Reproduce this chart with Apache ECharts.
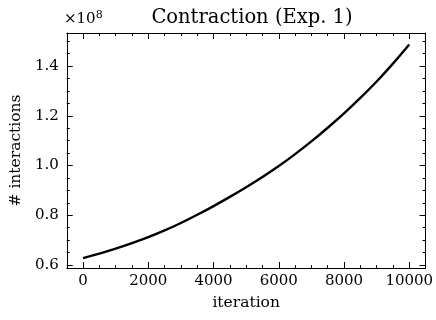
<!DOCTYPE html>
<html>
<head>
<meta charset="utf-8">
<script src="https://cdn.jsdelivr.net/npm/echarts@6/dist/echarts.min.js"></script>
<style>html,body{margin:0;padding:0;background:#fff}#c{width:436px;height:320px}</style>
</head>
<body>
<div id="c"></div>
<script>
const iterations = [0, 500, 1000, 1500, 2000, 2500, 3000, 3500, 4000, 4500, 5000,
  5500, 6000, 6500, 7000, 7500, 8000, 8500, 9000, 9500, 10000];
const interactionsE8 = [0.628, 0.646, 0.666, 0.688, 0.712, 0.739, 0.769, 0.802, 0.837, 0.874, 0.913,
  0.954, 0.998, 1.046, 1.097, 1.152, 1.210, 1.272, 1.338, 1.410, 1.487];
const xMajorTicks = [0, 2000, 4000, 6000, 8000, 10000];
const xMinorTicks = [500, 1000, 1500, 2500, 3000, 3500, 4500, 5000, 5500, 6500, 7000, 7500, 8500, 9000, 9500];
const yMajorTicks = [0.6, 0.8, 1.0, 1.2, 1.4];
const yMinorTicks = [0.65, 0.7, 0.75, 0.85, 0.9, 0.95, 1.05, 1.1, 1.15, 1.25, 1.3, 1.35, 1.45, 1.5];

const FONT = 'DejaVu Serif';
const XMIN = -500, XMAX = 10500, YMIN = 0.588, YMAX = 1.533;

function xAx(pos, ticks, len, showLabel, showLine) {
  return {
    type: 'value', position: pos, min: XMIN, max: XMAX,
    splitLine: {show: false},
    axisLine: {show: showLine, onZero: false, lineStyle: {color: '#000', width: 1}},
    axisTick: {show: true, inside: true, length: len, customValues: ticks, lineStyle: {color: '#000', width: 1}},
    axisLabel: {show: showLabel, customValues: ticks, color: '#000', fontFamily: FONT, fontSize: 15, margin: 6,
      formatter: v => String(v)},
    name: showLabel ? 'iteration' : '', nameLocation: 'middle', nameGap: 27,
    nameTextStyle: {color: '#000', fontFamily: FONT, fontSize: 15.5}
  };
}
function yAx(pos, ticks, len, showLabel, showLine) {
  return {
    type: 'value', position: pos, min: YMIN, max: YMAX,
    splitLine: {show: false},
    axisLine: {show: showLine, onZero: false, lineStyle: {color: '#000', width: 1}},
    axisTick: {show: true, inside: true, length: len, customValues: ticks, lineStyle: {color: '#000', width: 1}},
    axisLabel: {show: showLabel, customValues: ticks, color: '#000', fontFamily: FONT, fontSize: 15, margin: 8,
      formatter: v => v.toFixed(1)},
    name: showLabel ? '# interactions' : '', nameLocation: 'middle', nameGap: 37, nameRotate: 90,
    nameTextStyle: {color: '#000', fontFamily: FONT, fontSize: 15.5}
  };
}

const chart = echarts.init(document.getElementById('c'), null, {renderer: 'canvas'});
chart.setOption({
  animation: false,
  backgroundColor: '#fff',
  title: {
    text: 'Contraction (Exp. 1)', left: 247, top: 3, textAlign: 'center',
    textStyle: {color: '#000', fontFamily: FONT, fontSize: 19.5, fontWeight: 'normal'}
  },
  graphic: [{
    type: 'text', left: 64, top: 10,
    style: {
      text: '×10{s|8}', fill: '#000', font: '15px "DejaVu Serif"',
      rich: {s: {fontSize: 11, fontFamily: FONT, verticalAlign: 'top', padding: [0, 0, 7, 0], fill: '#000'}}
    }
  }],
  grid: {left: 64, right: 8, top: 33, bottom: 52},
  xAxis: [
    xAx('bottom', xMajorTicks, 6, true, true),
    xAx('bottom', xMinorTicks, 3, false, false),
    xAx('top', xMajorTicks, 6, false, true),
    xAx('top', xMinorTicks, 3, false, false)
  ],
  yAxis: [
    yAx('left', yMajorTicks, 6, true, true),
    yAx('left', yMinorTicks, 3, false, false),
    yAx('right', yMajorTicks, 6, false, true),
    yAx('right', yMinorTicks, 3, false, false)
  ],
  series: [{
    type: 'line', xAxisIndex: 0, yAxisIndex: 0,
    data: iterations.map((x, i) => [x, interactionsE8[i]]),
    smooth: 0.3, showSymbol: false, symbol: 'none',
    lineStyle: {color: '#000', width: 2.4}
  }]
});
</script>
</body>
</html>
